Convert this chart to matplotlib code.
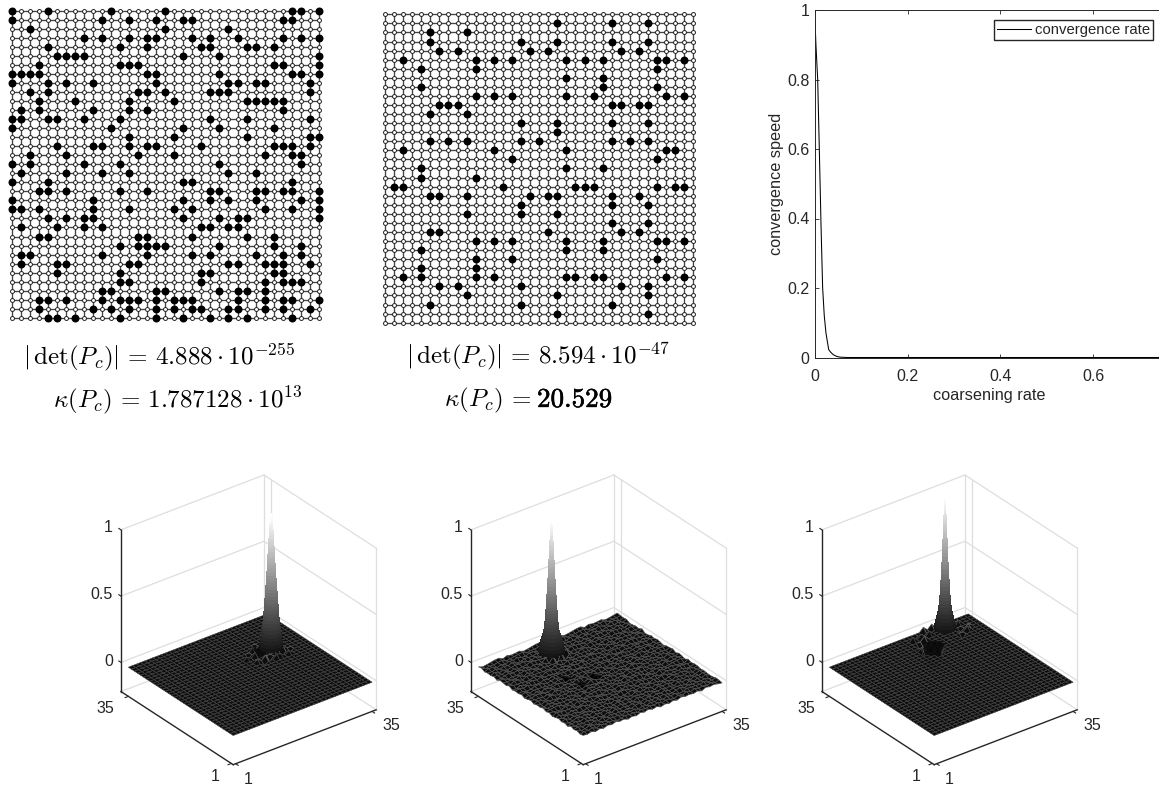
import numpy as np
import matplotlib
matplotlib.use("Agg")
import matplotlib.pyplot as plt
import matplotlib.patheffects as pe
from mpl_toolkits.mplot3d import Axes3D  # noqa: F401

plt.rcParams["font.family"] = ["Liberation Sans", "DejaVu Sans"]
plt.rcParams["mathtext.fontset"] = "cm"

W, H = 1159, 786
INK = "#262626"

# black nodes of the two 35 x 35 grids, row by row from the top
black_a = [
    [0, 4, 11, 17, 31, 32, 34], [0, 10, 13, 16, 19, 20, 30, 31], [2, 17, 24],
    [8, 10, 13, 15, 16, 20, 22, 25, 30, 32, 34], [4, 12, 15, 21, 22, 26, 27, 29],
    [5, 6, 7, 8, 19, 23, 34], [3, 12, 13, 14, 29, 30, 34],
    [0, 1, 2, 3, 15, 16, 23, 31, 32, 34], [0, 4, 6, 9, 16, 24, 25, 27, 28, 33],
    [2, 4, 14, 15, 17, 22, 23, 24, 33], [3, 7, 13, 18, 26, 27, 28, 29, 30],
    [1, 3, 9, 13, 15, 30], [0, 1, 4, 5, 8, 12, 22, 26, 33], [0, 11, 19, 23, 29],
    [13, 18, 26, 33, 34], [5, 9, 10, 13, 15, 16, 21, 29, 30, 31, 33],
    [2, 6, 14, 18, 28, 31, 32], [0, 2, 8, 12, 23, 32], [1, 6, 10, 13, 24, 27],
    [0, 4, 19, 20, 31], [3, 4, 6, 12, 15, 22, 23, 27, 28, 30, 31, 34],
    [0, 9, 19, 22, 24, 27, 32, 34], [0, 1, 3, 9, 13, 18, 20, 28, 31, 34],
    [4, 6, 8, 9, 19, 23, 25, 26, 34], [1, 5, 8, 10, 21, 22, 24, 25],
    [3, 4, 14, 15, 20, 26, 29], [12, 14, 15, 16, 17, 23, 29, 32],
    [1, 2, 10, 15, 20, 22, 27, 30, 32], [1, 5, 6, 13, 14, 24, 25, 28, 29, 30, 33],
    [5, 12, 21, 22, 29, 30], [12, 13, 21, 28, 30, 31, 32],
    [10, 11, 16, 17, 23, 25, 26, 28],
    [3, 4, 6, 10, 12, 13, 14, 16, 18, 19, 20, 25, 28, 30, 31, 34],
    [3, 9, 11, 13, 16, 18, 20, 21, 24, 25, 28, 30, 33],
    [4, 5, 7, 12, 16, 19, 22, 24, 26, 31],
]
black_b = [
    [], [19, 25, 29], [5, 9], [5, 15, 19, 25, 29], [6, 8, 16, 18, 26, 28],
    [2, 10, 12, 14, 20, 22, 24, 30, 31, 33], [4, 10, 30], [20, 24], [4, 24, 30],
    [10, 12, 14, 20, 23, 31, 33], [6, 7, 8, 25, 26, 28, 29], [5, 9],
    [15, 19, 25, 29], [19], [5, 7, 9, 15, 17, 25, 27, 29], [2, 12, 20, 31, 32],
    [14, 30], [4, 20, 24], [4, 10], [1, 2, 13, 21, 22, 23, 30, 32, 33],
    [5, 6, 9, 16, 18, 19, 25, 28], [15, 25, 29], [9, 15, 19], [25, 29],
    [5, 6, 18, 26, 28], [10, 12, 14, 20, 24, 30, 31, 33], [4, 20, 24],
    [10, 14, 30], [4, 10], [2, 4, 10, 12, 20, 21, 23, 24, 31, 33],
    [6, 8, 15, 26, 29], [9, 19, 29], [5, 15, 25], [19, 29], [],
]

# convergence curve
rate_x = [0.0, 0.002, 0.0058, 0.0093, 0.013, 0.0165, 0.02, 0.0237, 0.0295,
          0.034, 0.0395, 0.047, 0.054, 0.07, 0.2, 0.4, 0.6, 0.8, 1.0]
rate_y = [0.97, 0.9, 0.8, 0.6, 0.38, 0.2, 0.12, 0.07, 0.023, 0.015, 0.008,
          0.003, 0.001, 0.0, 0.0, 0.0, 0.0, 0.0, 0.0]
rate_ticks = [0, 0.2, 0.4, 0.6, 0.8, 1]

# spikes: height and half width (in cells)
spike_z = [1.0, .975, .95, .925, .9, .875, .85, .825, .8, .775, .75, .725, .7,
           .675, .65, .625, .6, .575, .55, .525, .5, .475, .45, .425, .4, .375,
           .35, .325, .3, .275, .25, .225, .2, .175, .15, .125, .1, .075, .05,
           .025, 0.0]
spike_r_a = [.02, .11, .18, .24, .3, .34, .38, .43, .47, .51, .55, .59, .63, .66,
             .7, .74, .78, .82, .87, .91, .96, 1.0, 1.05, 1.1, 1.15, 1.2, 1.25,
             1.3, 1.35, 1.4, 1.45, 1.51, 1.58, 1.65, 1.72, 1.8, 1.88, 1.99, 2.1,
             2.2, 2.3]
spike_r_b = [.02, .06, .1, .14, .18, .22, .26, .3, .33, .37, .4, .44, .47, .5,
             .54, .57, .6, .64, .68, .72, .76, .8, .84, .88, .92, .96, 1.0, 1.05,
             1.1, 1.15, 1.2, 1.26, 1.32, 1.4, 1.5, 1.68, 1.9, 2.15, 2.35, 2.45,
             2.5]
spike_r_c = [.02, .05, .08, .11, .14, .17, .2, .23, .26, .29, .31, .34, .36, .39,
             .41, .44, .46, .49, .52, .55, .58, .61, .65, .68, .72, .76, .8, .84,
             .88, .92, .97, 1.02, 1.08, 1.16, 1.25, 1.36, 1.5, 1.67, 1.85, 2.0,
             2.1]

# disturbed cells around the spikes: (x, y, z)
ripple_a = [(22, 21, .02), (23, 20, -.02), (24, 21, .03), (23, 23, .03),
            (22, 24, -.02), (24, 25, .03), (25, 26, -.02), (27, 20, .02),
            (28, 21, -.03), (29, 22, .03), (28, 23, .02), (30, 21, -.02),
            (29, 20, .02), (26, 20, .03), (25, 21, -.03), (21, 23, .02),
            (27, 25, .02), (24, 23, -.04), (24, 24, -.05), (25, 23, -.05),
            (25, 24, .04)]
ripple_b = [(14, 28, .03), (15, 28, -.03), (16, 28, .04), (17, 28, -.03),
            (18, 29, .03), (18, 30, -.03), (13, 29, .02)]
ripple_c = [(19, 29, .02), (20, 31, -.03), (20, 33, .03), (21, 34, -.02),
            (22, 33, .03), (23, 34, -.03), (24, 35, .03), (25, 34, -.02),
            (26, 35, .03), (28, 35, -.03), (29, 34, .03), (30, 33, -.03),
            (31, 33, .03), (30, 31, -.02), (31, 30, .03), (29, 29, -.03),
            (32, 31, .02), (21, 31, -.03), (22, 32, .03), (24, 33, .03),
            (19, 28, -.06), (20, 27, -.1), (21, 28, -.13), (21, 27, -.12),
            (22, 28, -.1), (22, 29, -.08), (21, 29, -.09), (20, 28, -.12),
            (20, 29, -.07), (21, 26, -.07), (22, 27, -.07), (23, 28, -.05),
            (23, 29, -.05), (22, 30, -.05), (21, 30, -.05)]

# second surface is rough everywhere, one digit per node (5 = level)
rough_b = [
    "53716284957162849370516284637195842",
    "26481937502846173958264071938462715",
    "71395062847193605284917360285749136",
    "48260719384526079183647205918364702",
    "93517264082937156048273915640827391",
    "15728406391748250936174825093617482",
    "60394817526039481752603948175260394",
    "38172650943817265094381726509438172",
    "82946015738294601573829460157382946",
    "47016398254701639825470163982547016",
    "19653702841965370284196537028419653",
    "74208519367420851936742085193674208",
    "36891247503689124750368912475036891",
    "92475360819247536081924753608192475",
    "50738926145073892614507389261450738",
    "61842075936184207593618420759361842",
    "27309618452730961845273096184527309",
    "84516093728451609372845160937284516",
    "43975182064397518206439751820643975",
    "16280734951628073495162807349516280",
    "79164520387916452038791645203879164",
    "35027961483502796148350279614835027",
    "58493016275849301627584930162758493",
    "20716849352071684935207168493520716",
    "96351274089635127408963512740896351",
    "41870963524187096352418709635241870",
    "63529180746352918074635291807463529",
    "87042596318704259631870425963187042",
    "12694837051269483705126948370512694",
    "75381602497538160249753816024975381",
    "39160475823916047582391604758239160",
    "54827391065482739106548273910654827",
    "28705164932870516493287051649328705",
    "91436802579143680257914368025791436",
    "60258917346025891734602589173460258",
]
# darker blotches on the second surface: (x, y)
blotch_b = [(11, 20), (12, 20), (11, 21), (12, 16), (13, 16), (12, 17), (13, 17),
            (16, 17), (17, 17), (16, 18)]

z_ticks = [1.0, 0.5, 0.0]
# tick label places as axes fractions, same on all surfaces
tick_places = [("1", .0586, .8113), ("0.5", .0375, .595), ("0", .0609, .380),
               ("35", .0511, .2269), ("1", .4062, .006), ("1", .512, -.002),
               ("35", .9767, .172)]


def px_axes(left, top, right, bottom, **kw):
    return fig.add_axes([left / W, 1 - bottom / H, (right - left) / W,
                         (bottom - top) / H], **kw)


def draw_grid(black, x0, y0, step):
    pad = 0.7
    ax = px_axes(x0 - pad * step, y0 - pad * step,
                 x0 + (34 + pad) * step, y0 + (34 + pad) * step)
    ax.set_xlim(-pad, 34 + pad)
    ax.set_ylim(34 + pad, -pad)
    ax.axis("off")
    ax.hlines(range(35), 0, 34, color="#444444", lw=0.95, zorder=1)
    ax.vlines(range(35), 0, 34, color="#444444", lw=0.95, zorder=1)
    gx, gy = np.meshgrid(np.arange(35), np.arange(35))
    ax.scatter(gx.ravel(), gy.ravel(), s=8, facecolor="white",
               edgecolor="#222222", linewidth=0.7, zorder=2)
    bx = [c for row in black for c in row]
    by = [r for r, row in enumerate(black) for _ in row]
    ax.scatter(bx, by, s=33, color="black", linewidth=0, zorder=3)


def draw_surface(cx, cy, peak, spike_r, ripple, rough=None, blotch=()):
    size = 309
    ax = px_axes(cx - size / 2, cy - size / 2, cx + size / 2, cy + size / 2,
                 projection="3d", proj_type="ortho")
    ax.computed_zorder = False
    ax.view_init(elev=30, azim=-127.5)
    ax.set_box_aspect((0.968, 0.99, 1.003))
    xmax, ymax, zmin = 36.0, 37.4, -0.22
    ax.set_xlim(1, xmax)
    ax.set_ylim(1, ymax)
    ax.set_zlim(zmin, 1)
    ax.set_axis_off()
    ax.patch.set_visible(False)

    wall = dict(color="#dedede", lw=0.9)
    for z in [zmin, 0.0, 0.5, 1.0]:
        ax.plot([1, xmax], [ymax, ymax], [z, z], **wall)
        ax.plot([xmax, xmax], [ymax, 1], [z, z], **wall)
    ax.plot([xmax, xmax], [ymax, ymax], [zmin, 1], **wall)
    ax.plot([xmax, xmax], [35, 35], [zmin, 1], **wall)
    ax.plot([xmax, xmax], [1, 1], [zmin, 1], **wall)

    axis = dict(color=INK, lw=1.0)
    ax.plot([1, 1], [ymax, ymax], [zmin, 1], **axis)
    ax.plot([1, 1], [1, ymax], [zmin, zmin], **axis)
    ax.plot([1, xmax], [1, 1], [zmin, zmin], **axis)
    for z in z_ticks:
        ax.plot([1, 1], [ymax, ymax + 0.7], [z, z], color=INK, lw=0.8)
    for x in [1.6, 35]:
        ax.plot([x, x], [1, 0.2], [zmin, zmin], color=INK, lw=0.8)
    for y in [1.6, 35]:
        ax.plot([1, 0.2], [y, y], [zmin, zmin], color=INK, lw=0.8)

    nodes = np.arange(1, 36)
    X, Y = np.meshgrid(nodes, nodes)
    Z = np.zeros((35, 35))
    if rough is not None:
        Z = (np.array([[int(d) for d in line] for line in rough]) - 4.5) * 0.002
    for x, y, z in ripple:
        Z[y - 1, x - 1] = z

    face = np.zeros((35, 35, 4))
    face[..., :3] = 0.05
    face[..., 3] = 1
    edge = np.zeros((34, 34, 4))
    edge[..., :3] = 0.33 if rough is not None else 0.25
    edge[..., 3] = 1
    for x, y, z in ripple:
        j, i = min(x - 1, 33), min(y - 1, 33)
        edge[i, j, :3] = 0.0 if z < -0.035 else 0.42
    for x, y in blotch:
        face[y - 1, x - 1, :3] = 0.0
        edge[y - 1, x - 1, :3] = 0.08
    surf = ax.plot_surface(X, Y, Z, rstride=1, cstride=1, facecolors=face,
                           shade=False, linewidth=0.45, antialiased=True,
                           zorder=3)
    surf.set_edgecolors(edge.reshape(-1, 4))

    theta = np.deg2rad(np.arange(0, 361, 20))
    levels = np.array(spike_z)
    radii = np.array(spike_r)
    SX = peak[0] + np.outer(radii, np.cos(theta))
    SY = peak[1] + np.outer(radii, np.sin(theta))
    SZ = np.outer(levels, np.ones_like(theta))
    cols = plt.cm.gray(SZ * 0.94 + 0.06)
    ax.plot_surface(SX, SY, SZ, rstride=1, cstride=1, facecolors=cols,
                    shade=False, linewidth=0.3, edgecolor="none", zorder=4,
                    antialiased=False)

    for s, fx, fy in tick_places:
        ax.text2D(fx, fy, s, transform=ax.transAxes, ha="center", va="center",
                  fontsize=11.5, color=INK)


fig = plt.figure(figsize=(W / 100, H / 100), dpi=100)

draw_grid(black_a, 12, 11, 9.02)
draw_grid(black_b, 385, 14.3, 9.07)

ax = px_axes(815, 10, W, 357.5)
ax.plot(rate_x, rate_y, color="black", lw=0.75, label="convergence rate")
ax.set_xlim(0, (W - 815) / 463.5)
ax.set_ylim(0, 1)
ax.set_xticks([t for t in rate_ticks if t <= 0.6])
ax.set_xticklabels(["0", "0.2", "0.4", "0.6"])
ax.set_yticks(rate_ticks)
ax.set_yticklabels(["0", "0.2", "0.4", "0.6", "0.8", "1"])
ax.tick_params(direction="in", length=3.2, width=0.6, top=True, labelsize=11.5,
               colors=INK)
ax.tick_params(axis="x", pad=8.5)
ax.tick_params(axis="y", pad=4)
ax.spines["right"].set_visible(False)
for side in ["top", "left", "bottom"]:
    ax.spines[side].set_color(INK)
    ax.spines[side].set_linewidth(0.7)
ax.set_xlabel("coarsening rate", fontsize=11.7, color=INK, labelpad=3, x=0.506)
ax.set_ylabel("convergence speed", fontsize=11.7, color=INK, labelpad=2.5)
ax.legend(loc="upper right", bbox_to_anchor=(1153 / W, 1 - 20 / H),
          bbox_transform=fig.transFigure, fancybox=False, framealpha=1,
          edgecolor=INK, fontsize=10.7, borderpad=0.2, handlelength=2.3,
          handletextpad=0.25, borderaxespad=0, labelcolor=INK)

fig.text(159 / W, 1 - 357 / H, r"$|\,\det(P_c)|\, =\, 4.888\cdot 10^{-255}$",
         ha="center", va="center", fontsize=18)
fig.text(178 / W, 1 - 400 / H, r"$\kappa(P_c)\, =\, 1.787128\cdot 10^{13}$",
         ha="center", va="center", fontsize=18)
fig.text(537.5 / W, 1 - 357 / H, r"$|\,\det(P_c)|\, =\, 8.594\cdot 10^{-47}$",
         ha="center", va="center", fontsize=18)
fig.text(444 / W, 1 - 400 / H, r"$\kappa(P_c)\, =$",
         ha="left", va="center", fontsize=18)
fig.text(537 / W, 1 - 400 / H, r"$\mathbf{20.529}$", ha="left", va="center",
         fontsize=19.5, path_effects=[pe.withStroke(linewidth=0.4,
                                                    foreground="black")])

draw_surface(244.4, 624, (27.9, 24.3), spike_r_a, ripple_a)
draw_surface(594.4, 624, (16.1, 31.3), spike_r_b, ripple_b, rough_b, blotch_b)
draw_surface(945.4, 624, (28.1, 33.4), spike_r_c, ripple_c)

fig.savefig("out.png", dpi=100)
